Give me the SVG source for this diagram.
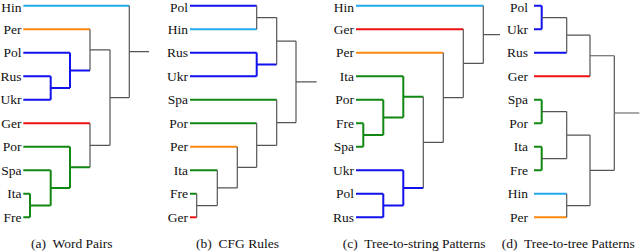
<svg xmlns="http://www.w3.org/2000/svg" width="640" height="251" viewBox="0 0 640 251" font-family="'Liberation Serif','Times New Roman',serif">
<style>
text{font-family:"Liberation Serif","Times New Roman",serif;font-size:13.5px;fill:#111}
.lbl{text-anchor:end}
.cap{white-space:pre}
path{fill:none;stroke-linecap:butt}
.g{stroke:#555;stroke-width:1.2}
.c{stroke:#22aaee;stroke-width:2}
.o{stroke:#ff8811;stroke-width:2}
.b{stroke:#1111ee;stroke-width:2}
.r{stroke:#ee1111;stroke-width:2}
.gr{stroke:#118811;stroke-width:2}
</style>
<rect width="640" height="251" fill="#fff"/>

<!-- Panel (a) -->
<g id="panel-a">
<g id="a-Hin"><text class="lbl" x="21.5" y="11.6">Hin</text></g>
<g id="a-Per"><text class="lbl" x="21.5" y="33.8">Per</text></g>
<g id="a-Pol"><text class="lbl" x="21.5" y="57.3">Pol</text></g>
<g id="a-Rus"><text class="lbl" x="21.5" y="80.8">Rus</text></g>
<g id="a-Ukr"><text class="lbl" x="21.5" y="104.3">Ukr</text></g>
<g id="a-Ger"><text class="lbl" x="21.5" y="127.8">Ger</text></g>
<g id="a-Por"><text class="lbl" x="21.5" y="151.3">Por</text></g>
<g id="a-Spa"><text class="lbl" x="21.5" y="174.8">Spa</text></g>
<g id="a-Ita"><text class="lbl" x="21.5" y="198.3">Ita</text></g>
<g id="a-Fre"><text class="lbl" x="21.5" y="221.8">Fre</text></g>
<g id="a-connectors">
<path class="c" d="M23.3 5.8H129.3"/>
<path class="o" d="M23.3 29.3H90"/>
<path class="b" d="M23.3 52.8H70M23.3 76.3H50.7M23.3 99.8H50.7M50.7 76.3V99.8M50.7 88.05H70M70 52.8V88.05M70 70.4H90"/>
<path class="g" d="M90 29.3V70.4M90 49.85H110"/>
<path class="r" d="M23.3 123.3H90"/>
<path class="gr" d="M23.3 146.8H70M23.3 170.3H50.7M23.3 193.8H30M23.3 217.3H30M30 193.8V217.3M30 205.55H50.7M50.7 170.3V205.55M50.7 187.9H70M70 146.8V187.9M70 167.35H90"/>
<path class="g" d="M90 123.3V167.35M90 145.3H110M110 49.85V145.3M110 97.6H129.3M129.3 5.8V97.6M129.3 51.7H149"/>
</g>
<text class="cap" x="31" y="248">(a)  Word Pairs</text>
</g>

<!-- Panel (b) -->
<g id="panel-b">
<g id="b-Pol"><text class="lbl" x="188" y="11.6">Pol</text></g>
<g id="b-Hin"><text class="lbl" x="188" y="33.8">Hin</text></g>
<g id="b-Rus"><text class="lbl" x="188" y="57.3">Rus</text></g>
<g id="b-Ukr"><text class="lbl" x="188" y="80.8">Ukr</text></g>
<g id="b-Spa"><text class="lbl" x="188" y="104.3">Spa</text></g>
<g id="b-Por"><text class="lbl" x="188" y="127.8">Por</text></g>
<g id="b-Per"><text class="lbl" x="188" y="151.3">Per</text></g>
<g id="b-Ita"><text class="lbl" x="188" y="174.8">Ita</text></g>
<g id="b-Fre"><text class="lbl" x="188" y="198.3">Fre</text></g>
<g id="b-Ger"><text class="lbl" x="188" y="221.8">Ger</text></g>
<g id="b-connectors">
<path class="b" d="M190 5.8H256.7"/>
<path class="c" d="M190 29.3H256.7"/>
<path class="g" d="M256.7 5.8V29.3M256.7 17.55H276.7"/>
<path class="b" d="M190 52.8H256.7M190 76.3H256.7M256.7 52.8V76.3M256.7 64.55H276.7"/>
<path class="g" d="M276.7 17.55V64.55M276.7 41.05H296"/>
<path class="gr" d="M190 99.8H276.7M190 123.3H256.7M190 170.3H217.3M190 193.8H196.7"/>
<path class="o" d="M190 146.8H237.3"/>
<path class="r" d="M190 217.3H196.7"/>
<path class="g" d="M196.7 193.8V217.3M196.7 205.55H217.3M217.3 170.3V205.55M217.3 187.9H237.3M237.3 146.8V187.9M237.3 167.35H256.7M256.7 123.3V167.35M256.7 145.3H276.7M276.7 99.8V145.3M276.7 122.55H296M296 41.05V122.55M296 81.8H316.7"/>
</g>
<text class="cap" x="196" y="248">(b)  CFG Rules</text>
</g>

<!-- Panel (c) -->
<g id="panel-c">
<g id="c-Hin"><text class="lbl" x="354" y="11.6">Hin</text></g>
<g id="c-Ger"><text class="lbl" x="354" y="33.8">Ger</text></g>
<g id="c-Per"><text class="lbl" x="354" y="57.3">Per</text></g>
<g id="c-Ita"><text class="lbl" x="354" y="80.8">Ita</text></g>
<g id="c-Por"><text class="lbl" x="354" y="104.3">Por</text></g>
<g id="c-Fre"><text class="lbl" x="354" y="127.8">Fre</text></g>
<g id="c-Spa"><text class="lbl" x="354" y="151.3">Spa</text></g>
<g id="c-Ukr"><text class="lbl" x="354" y="174.8">Ukr</text></g>
<g id="c-Pol"><text class="lbl" x="354" y="198.3">Pol</text></g>
<g id="c-Rus"><text class="lbl" x="354" y="221.8">Rus</text></g>
<g id="c-connectors">
<path class="c" d="M356 5.8H483.3"/>
<path class="r" d="M356 29.3H463.3"/>
<path class="o" d="M356 52.8H443.3"/>
<path class="gr" d="M356 76.3H403.3M356 99.8H383.3M356 123.3H363.3M356 146.8H363.3M363.3 123.3V146.8M363.3 135.05H383.3M383.3 99.8V135.05M383.3 117.4H403.3M403.3 76.3V117.4M403.3 96.85H423.3"/>
<path class="b" d="M356 170.3H403.3M356 193.8H383.3M356 217.3H383.3M383.3 193.8V217.3M383.3 205.55H403.3M403.3 170.3V205.55M403.3 187.9H423.3"/>
<path class="g" d="M423.3 96.85V187.9M423.3 142.4H443.3M443.3 52.8V142.4M443.3 97.6H463.3M463.3 29.3V97.6M463.3 63.45H483.3M483.3 5.8V63.45M483.3 34.6H500"/>
</g>
<text class="cap" x="342.7" y="248">(c)  Tree-to-string Patterns</text>
</g>

<!-- Panel (d) -->
<g id="panel-d">
<g id="d-Pol"><text class="lbl" x="528" y="11.6">Pol</text></g>
<g id="d-Ukr"><text class="lbl" x="528" y="33.8">Ukr</text></g>
<g id="d-Rus"><text class="lbl" x="528" y="57.3">Rus</text></g>
<g id="d-Ger"><text class="lbl" x="528" y="80.8">Ger</text></g>
<g id="d-Spa"><text class="lbl" x="528" y="104.3">Spa</text></g>
<g id="d-Por"><text class="lbl" x="528" y="127.8">Por</text></g>
<g id="d-Ita"><text class="lbl" x="528" y="151.3">Ita</text></g>
<g id="d-Fre"><text class="lbl" x="528" y="174.8">Fre</text></g>
<g id="d-Hin"><text class="lbl" x="528" y="198.3">Hin</text></g>
<g id="d-Per"><text class="lbl" x="528" y="221.8">Per</text></g>
<g id="d-connectors">
<path class="b" d="M534 5.8H541.7M534 29.3H541.7M541.7 5.8V29.3M534 52.8H566.7"/>
<path class="r" d="M534 76.3H590"/>
<path class="gr" d="M534 99.8H541.7M534 123.3H541.7M541.7 99.8V123.3M534 146.8H541.7M534 170.3H541.7M541.7 146.8V170.3"/>
<path class="c" d="M534 193.8H566.7"/>
<path class="o" d="M534 217.3H566.7"/>
<path class="g" d="M541.7 17.55H566.7M566.7 17.55V52.8M566.7 35.2H590M590 35.2V76.3M590 55.75H614.3M541.7 111.55H566.7M541.7 158.55H566.7M566.7 111.55V158.55M566.7 135.05H590M566.7 193.8V217.3M566.7 205.55H590M590 135.05V205.55M590 170.3H614.3M614.3 55.75V170.3M614.3 113H639.3"/>
</g>
<text class="cap" x="501.7" y="248">(d)  Tree-to-tree Patterns</text>
</g>
</svg>
